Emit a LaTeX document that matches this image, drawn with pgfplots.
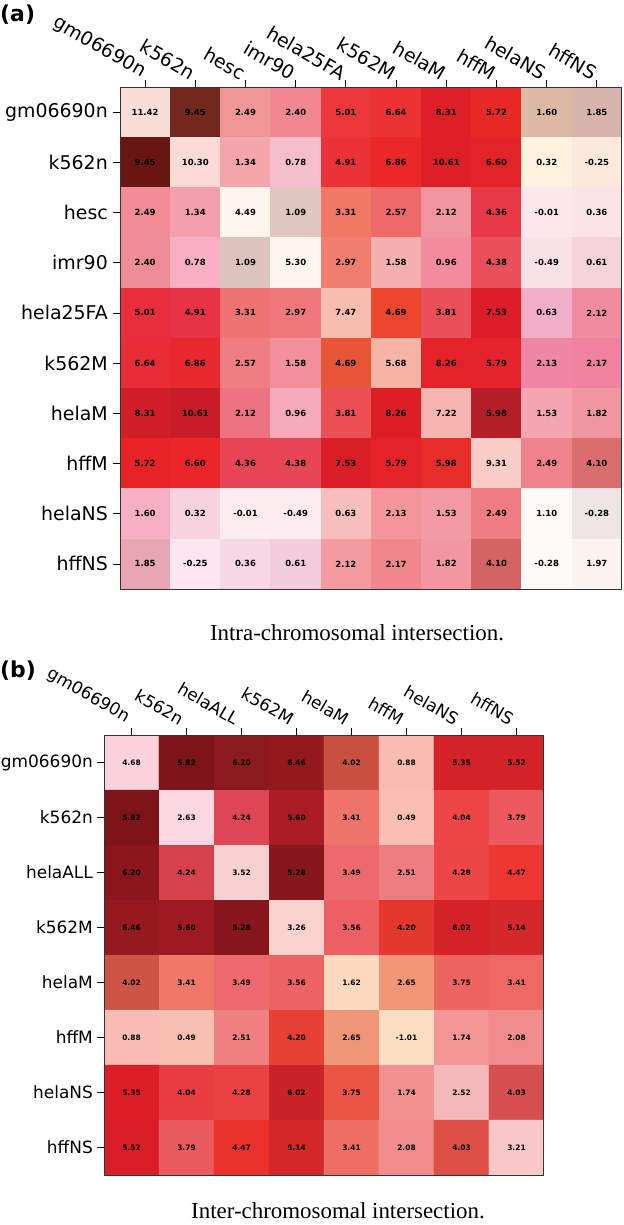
\documentclass[border=0pt]{standalone}
\usepackage{pgfplots}
\pgfplotsset{compat=1.18}
\usepackage{pgfplotstable}
\usepackage{fontspec}
\setmainfont{Liberation Serif}
\newfontfamily\dejavu{DejaVu Sans}

\pgfplotstableread{
x y c v
0 0 rgb255=250,222,214 11.42
1 0 rgb255=115,40,30 9.45
2 0 rgb255=240,150,150 2.49
3 0 rgb255=240,135,145 2.40
4 0 rgb255=236,56,58 5.01
5 0 rgb255=236,50,50 6.64
6 0 rgb255=222,32,38 8.31
7 0 rgb255=232,40,38 5.72
8 0 rgb255=220,185,165 1.60
9 0 rgb255=215,180,172 1.85
0 1 rgb255=105,22,18 9.45
1 1 rgb255=250,218,212 10.30
2 1 rgb255=245,165,172 1.34
3 1 rgb255=246,190,205 0.78
4 1 rgb255=234,50,55 4.91
5 1 rgb255=234,40,40 6.86
6 1 rgb255=222,32,38 10.61
7 1 rgb255=226,35,40 6.60
8 1 rgb255=255,242,222 0.32
9 1 rgb255=253,232,220 -0.25
0 2 rgb255=240,140,150 2.49
1 2 rgb255=244,160,172 1.34
2 2 rgb255=254,245,238 4.49
3 2 rgb255=225,198,192 1.09
4 2 rgb255=240,120,100 3.31
5 2 rgb255=238,105,105 2.57
6 2 rgb255=240,148,158 2.12
7 2 rgb255=232,55,70 4.36
8 2 rgb255=252,232,236 -0.01
9 2 rgb255=250,228,232 0.36
0 3 rgb255=238,140,150 2.40
1 3 rgb255=246,175,195 0.78
2 3 rgb255=222,195,188 1.09
3 3 rgb255=254,246,238 5.30
4 3 rgb255=240,125,110 2.97
5 3 rgb255=246,175,175 1.58
6 3 rgb255=240,140,155 0.96
7 3 rgb255=234,80,90 4.38
8 3 rgb255=250,225,232 -0.49
9 3 rgb255=243,210,218 0.61
0 4 rgb255=232,45,60 5.01
1 4 rgb255=232,50,70 4.91
2 4 rgb255=238,115,115 3.31
3 4 rgb255=240,120,125 2.97
4 4 rgb255=247,190,175 7.47
5 4 rgb255=236,70,45 4.69
6 4 rgb255=234,80,90 3.81
7 4 rgb255=220,30,40 7.53
8 4 rgb255=244,175,200 0.63
9 4 rgb255=240,140,160 2.12
0 5 rgb255=232,45,55 6.64
1 5 rgb255=232,40,45 6.86
2 5 rgb255=240,125,130 2.57
3 5 rgb255=242,145,155 1.58
4 5 rgb255=232,85,55 4.69
5 5 rgb255=246,180,165 5.68
6 5 rgb255=228,35,40 8.26
7 5 rgb255=228,35,45 5.79
8 5 rgb255=238,135,165 2.13
9 5 rgb255=238,130,160 2.17
0 6 rgb255=210,30,40 8.31
1 6 rgb255=200,28,40 10.61
2 6 rgb255=238,115,130 2.12
3 6 rgb255=245,170,185 0.96
4 6 rgb255=236,80,85 3.81
5 6 rgb255=222,30,38 8.26
6 6 rgb255=245,180,175 7.22
7 6 rgb255=180,30,38 5.98
8 6 rgb255=245,165,175 1.53
9 6 rgb255=240,150,160 1.82
0 7 rgb255=232,35,38 5.72
1 7 rgb255=234,38,40 6.60
2 7 rgb255=230,70,85 4.36
3 7 rgb255=230,70,85 4.38
4 7 rgb255=218,30,40 7.53
5 7 rgb255=228,35,40 5.79
6 7 rgb255=230,45,40 5.98
7 7 rgb255=250,205,200 9.31
8 7 rgb255=240,130,140 2.49
9 7 rgb255=218,110,110 4.10
0 8 rgb255=246,175,195 1.60
1 8 rgb255=248,210,222 0.32
2 8 rgb255=252,236,240 -0.01
3 8 rgb255=252,236,240 -0.49
4 8 rgb255=247,190,190 0.63
5 8 rgb255=243,150,155 2.13
6 8 rgb255=243,155,165 1.53
7 8 rgb255=240,125,130 2.49
8 8 rgb255=254,248,246 1.10
9 8 rgb255=238,230,228 -0.28
0 9 rgb255=232,165,180 1.85
1 9 rgb255=252,230,240 -0.25
2 9 rgb255=248,215,228 0.36
3 9 rgb255=243,205,220 0.61
4 9 rgb255=243,155,160 2.12
5 9 rgb255=240,135,140 2.17
6 9 rgb255=242,150,160 1.82
7 9 rgb255=212,100,100 4.10
8 9 rgb255=254,250,248 -0.28
9 9 rgb255=252,243,240 1.97
}\tableA

\pgfplotstableread{
x y c v
0 0 rgb255=250,210,220 4.68
1 0 rgb255=125,20,25 5.82
2 0 rgb255=140,25,30 6.20
3 0 rgb255=148,25,30 6.46
4 0 rgb255=200,80,65 4.02
5 0 rgb255=250,188,178 0.88
6 0 rgb255=212,35,40 5.35
7 0 rgb255=212,35,40 5.52
0 1 rgb255=125,20,25 5.82
1 1 rgb255=250,215,225 2.63
2 1 rgb255=222,70,85 4.24
3 1 rgb255=170,28,38 5.60
4 1 rgb255=238,115,105 3.41
5 1 rgb255=250,190,180 0.49
6 1 rgb255=238,70,70 4.04
7 1 rgb255=236,90,95 3.79
0 2 rgb255=140,22,30 6.20
1 2 rgb255=215,65,75 4.24
2 2 rgb255=248,208,210 3.52
3 2 rgb255=135,22,30 5.28
4 2 rgb255=236,105,110 3.49
5 2 rgb255=238,125,130 2.51
6 2 rgb255=236,70,70 4.28
7 2 rgb255=236,55,50 4.47
0 3 rgb255=150,25,32 6.46
1 3 rgb255=158,26,34 5.60
2 3 rgb255=135,22,30 5.28
3 3 rgb255=250,210,205 3.26
4 3 rgb255=238,95,100 3.56
5 3 rgb255=228,55,45 4.20
6 3 rgb255=212,35,40 6.02
7 3 rgb255=212,40,42 5.14
0 4 rgb255=205,85,70 4.02
1 4 rgb255=240,120,105 3.41
2 4 rgb255=236,105,110 3.49
3 4 rgb255=238,100,100 3.56
4 4 rgb255=252,218,190 1.62
5 4 rgb255=242,150,120 2.65
6 4 rgb255=238,100,95 3.75
7 4 rgb255=238,105,100 3.41
0 5 rgb255=248,188,180 0.88
1 5 rgb255=248,190,178 0.49
2 5 rgb255=238,128,130 2.51
3 5 rgb255=230,65,50 4.20
4 5 rgb255=240,150,120 2.65
5 5 rgb255=252,222,192 -1.01
6 5 rgb255=242,150,150 1.74
7 5 rgb255=240,140,140 2.08
0 6 rgb255=222,30,38 5.35
1 6 rgb255=234,60,65 4.04
2 6 rgb255=234,65,65 4.28
3 6 rgb255=202,35,40 6.02
4 6 rgb255=234,85,70 3.75
5 6 rgb255=242,145,145 1.74
6 6 rgb255=246,185,185 2.52
7 6 rgb255=215,80,80 4.03
0 7 rgb255=218,30,40 5.52
1 7 rgb255=234,90,95 3.79
2 7 rgb255=234,50,45 4.47
3 7 rgb255=212,40,42 5.14
4 7 rgb255=238,110,100 3.41
5 7 rgb255=240,140,140 2.08
6 7 rgb255=222,80,70 4.03
7 7 rgb255=248,200,200 3.21
}\tableB

\pgfplotsset{
  heat/.style={
    scale only axis,
    y dir=reverse,
    axis on top,
    tick align=outside,
    xtick pos=upper,
    ytick pos=left,
    xticklabel pos=upper,
    major tick length=7bp,
    every tick/.style={black, line width=0.8bp},
    axis line style={black!80, line width=1bp},
    ticklabel style={font=\dejavu\fontsize{19}{20}\selectfont},
    yticklabel style={anchor=east, inner sep=0pt, xshift=-5bp},
  },
}

\begin{document}
\begin{tikzpicture}
\useasboundingbox (0,0) rectangle (624bp,-1225bp);

\node[anchor=west, font=\dejavu\bfseries\fontsize{22}{24}\selectfont, inner sep=0pt] at (0bp,-15bp) {(a)};
\node[anchor=west, font=\dejavu\bfseries\fontsize{22}{24}\selectfont, inner sep=0pt] at (0bp,-671bp) {(b)};

\begin{axis}[heat,
  at={(120bp,-87bp)}, anchor=north west,
  width=502bp, height=502bp,
  xmin=-0.5, xmax=9.5, ymin=-0.5, ymax=9.5,
  xtick={0,...,9}, ytick={0,...,9},
  xticklabel style={xshift=-5.5bp, yshift=-1bp, rotate=-30, anchor=south east, inner sep=0pt},
  xticklabels={gm06690n,k562n,hesc,imr90,hela25FA,k562M,helaM,hffM,helaNS,hffNS},
  yticklabels={gm06690n,k562n,hesc,imr90,hela25FA,k562M,helaM,hffM,helaNS,hffNS},
]
\addplot[matrix plot*, mesh/cols=10, mesh/color input=explicit, point meta=explicit symbolic] table[x=x, y=y, meta=c] {\tableA};
\addplot[draw=none, mark=none, nodes near coords, point meta=explicit symbolic,
  nodes near coords style={anchor=center, font=\dejavu\bfseries\fontsize{8.5}{9}\selectfont, text=black}]
  table[x=x, y=y, meta=v] {\tableA};
\end{axis}

\node[font=\fontsize{23}{25}\selectfont] at (357bp,-633bp) {Intra-chromosomal intersection.};

\begin{axis}[heat,
  at={(104bp,-735bp)}, anchor=north west,
  width=440bp, height=440bp,
  xmin=-0.5, xmax=7.5, ymin=-0.5, ymax=7.5,
  xtick={0,...,7}, ytick={0,...,7},
  ticklabel style={font=\dejavu\fontsize{17}{18}\selectfont},
  yticklabel style={xshift=1bp},
  xticklabel style={xshift=-7.5bp, yshift=2bp, rotate=-30, anchor=south east, inner sep=0pt},
  xticklabels={gm06690n,k562n,helaALL,k562M,helaM,hffM,helaNS,hffNS},
  yticklabels={gm06690n,k562n,helaALL,k562M,helaM,hffM,helaNS,hffNS},
]
\addplot[matrix plot*, mesh/cols=8, mesh/color input=explicit, point meta=explicit symbolic] table[x=x, y=y, meta=c] {\tableB};
\addplot[draw=none, mark=none, nodes near coords, point meta=explicit symbolic,
  nodes near coords style={anchor=center, font=\dejavu\bfseries\fontsize{7.5}{8}\selectfont, text=black}]
  table[x=x, y=y, meta=v] {\tableB};
\end{axis}

\node[font=\fontsize{23}{25}\selectfont] at (338bp,-1211bp) {Inter-chromosomal intersection.};
\end{tikzpicture}
\end{document}
